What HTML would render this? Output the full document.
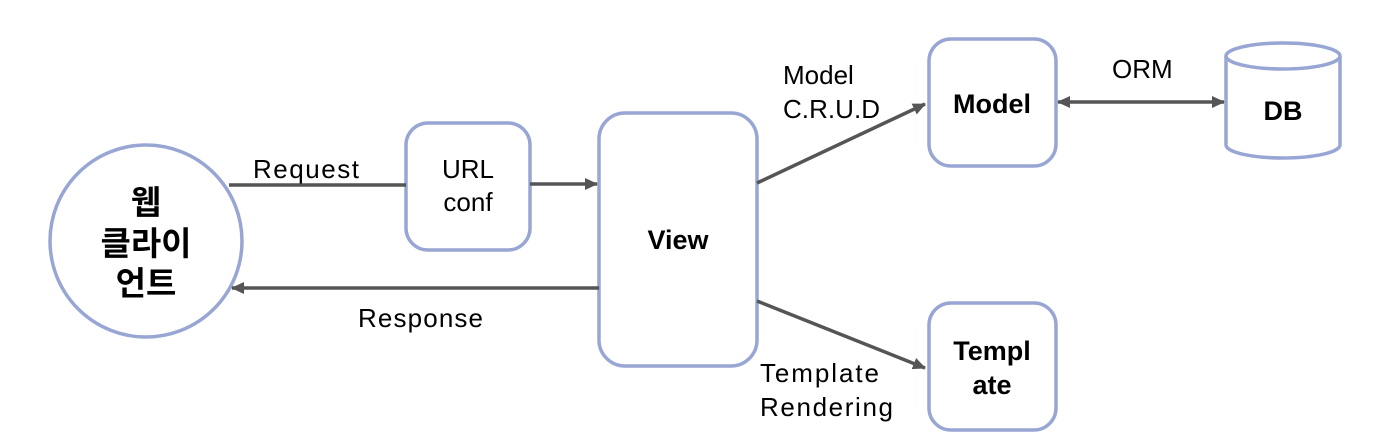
<!DOCTYPE html>
<html><head><meta charset="utf-8"><style>
html,body{margin:0;padding:0;background:#fff;}
svg{display:block;}
text{font-family:"Liberation Sans","Noto Sans CJK KR",sans-serif;fill:#000;}
</style></head><body>
<svg width="1387" height="446" viewBox="0 0 1387 446" xmlns="http://www.w3.org/2000/svg">
<defs>
<marker id="a" markerWidth="14" markerHeight="14" refX="12" refY="6" orient="auto" markerUnits="userSpaceOnUse">
<path d="M0,0 L13,6 L0,12 Z" fill="#555"/></marker>
<marker id="b" markerWidth="14" markerHeight="14" refX="1" refY="6" orient="auto" markerUnits="userSpaceOnUse">
<path d="M13,0 L0,6 L13,12 Z" fill="#555"/></marker>
</defs>
<g fill="#fff" stroke="#98a6d4" stroke-width="3.5">
<ellipse cx="146" cy="241" rx="96" ry="96"/>
<rect x="406" y="123" width="124" height="127" rx="22"/>
<rect x="599" y="113" width="158" height="253" rx="26"/>
<rect x="929" y="39" width="127" height="127" rx="22"/>
<rect x="929" y="303" width="127" height="127" rx="22"/>
<path d="M1226,56 L1226,145 A57,13 0 0 0 1340,145 L1340,56"/>
<ellipse cx="1283" cy="56" rx="57" ry="13"/>
</g>
<g stroke="#555" stroke-width="3.5" fill="none">
<line x1="229" y1="185" x2="406" y2="185"/>
<line x1="530" y1="184" x2="597" y2="184" marker-end="url(#a)"/>
<line x1="599" y1="288" x2="232" y2="288" marker-end="url(#a)"/>
<line x1="757" y1="183" x2="925" y2="104" marker-end="url(#a)"/>
<line x1="757" y1="301" x2="925" y2="368" marker-end="url(#a)"/>
<line x1="1058" y1="102" x2="1224" y2="102" marker-start="url(#b)" marker-end="url(#a)"/>
</g>
<g font-size="26">
<text x="253" y="178" textLength="106">Request</text>
<text x="358" y="327" textLength="125">Response</text>
<text x="468" y="178" text-anchor="middle">URL</text>
<text x="468" y="211" text-anchor="middle">conf</text>
<text x="783" y="84">Model</text>
<text x="783" y="118" textLength="97">C.R.U.D</text>
<text x="1112" y="78">ORM</text>
<text x="760" y="382" textLength="119">Template</text>
<text x="760" y="416" textLength="133">Rendering</text>
</g>
<g font-size="27" font-weight="bold">
<text x="678" y="249" text-anchor="middle">View</text>
<text x="992" y="113" text-anchor="middle">Model</text>
<text x="1283" y="120" text-anchor="middle">DB</text>
<text x="992" y="360" text-anchor="middle">Templ</text>
<text x="992" y="394" text-anchor="middle">ate</text>
</g>
<g font-size="33" font-weight="bold" text-anchor="middle">
<text x="146" y="214">웹</text>
<text x="146" y="255">클라이</text>
<text x="146" y="295">언트</text>
</g>
</svg>
</body></html>
